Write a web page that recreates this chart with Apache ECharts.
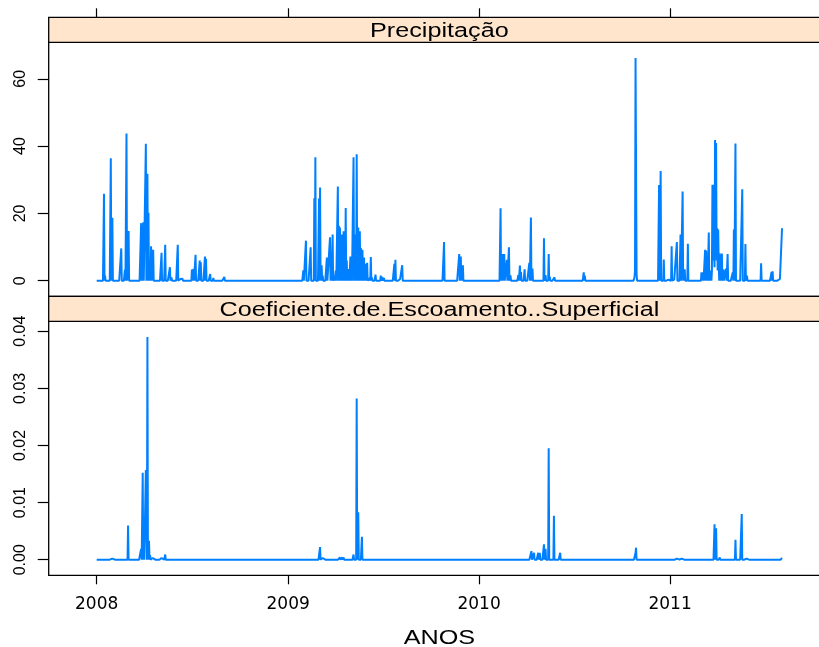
<!DOCTYPE html>
<html>
<head>
<meta charset="utf-8">
<title>Precipitação e Coeficiente de Escoamento Superficial</title>
<script src="https://cdn.jsdelivr.net/npm/echarts@6/dist/echarts.min.js"></script>
<style>
  html, body { margin: 0; padding: 0; background: #ffffff; }
  #chart { width: 819px; height: 647px; }
</style>
</head>
<body>
<div id="chart"></div>
<script>
// Daily record starting 2008-01-01 (day 0). Days not listed recorded 0.
const lastDay = 1310;

// Precipitação (mm): rainy days and amounts
const precipDays = [
  14, 16, 27, 30, 47, 54, 57, 61, 85, 87, 89, 94, 97, 99, 102, 104, 108, 124, 131, 140, 143, 155, 160, 164,
  182, 185, 189, 197, 199, 207, 209, 217, 223, 229, 244,
  395, 400, 404, 409, 412, 416, 418, 420, 425, 427, 430, 432, 440, 443, 446, 448, 451, 454, 457, 461,
  463, 465, 467, 469, 472, 474, 476, 478, 480, 482, 485, 487, 489, 491, 493, 495, 497, 499, 500, 502,
  503, 505, 508, 511, 514, 517, 522, 524, 526, 533, 543, 546, 549, 553, 569, 571, 580, 584, 664, 686,
  693, 696, 700, 703,
  772, 776, 779, 784, 788, 791, 795, 806, 809, 811, 815, 818, 822, 827, 830, 833, 855, 858, 864, 866,
  875, 877, 895, 922, 931, 933, 1028, 1029, 1030, 1031, 1032, 1072, 1075, 1078, 1084, 1093,
  1099, 1104, 1109, 1113, 1116, 1120, 1124, 1130, 1156, 1159, 1163, 1165, 1167, 1170, 1172, 1174, 1176, 1177, 1178, 1179,
  1180, 1181, 1182, 1183, 1184, 1185, 1186, 1187, 1188, 1189, 1191, 1193, 1195, 1198, 1201, 1203, 1206, 1209, 1216, 1218,
  1221, 1225, 1234, 1240, 1243, 1249, 1254, 1270, 1290, 1292, 1303, 1306, 1310
];
const precipMm = [
  25.8, 1.5, 36.4, 18.7, 9.6, 3.3, 43.7, 14.8, 17.1, 5.2, 17.4, 40.7, 31.8, 20.2, 4.5, 10.2, 9.2, 8.3, 10.7, 4.0, 1.0, 10.7, 0.5, 0.6,
  3.3, 3.5, 7.7, 6.0, 5.5, 7.2, 6.5, 2.0, 0.8, 0.5, 1.1,
  3.1, 11.9, 0.5, 9.9, 0.5, 24.5, 36.7, 0.3, 24.4, 27.7, 4.6, 1.5, 6.9, 0.5, 12.9, 2.0, 13.7, 1.5, 3.0, 28.0,
  16.3, 15.8, 2.8, 13.7, 14.7, 14.7, 21.6, 6.0, 3.0, 3.5, 7.2, 6.0, 0.5, 36.7, 4.0, 13.7, 37.6, 5.0, 15.8, 4.0,
  14.7, 9.7, 9.2, 6.9, 5.0, 5.3, 0.8, 7.0, 1.0, 1.8, 1.5, 1.1, 0.8, 0.5, 5.0, 6.2, 0.5, 4.6, 11.5, 0.3,
  7.9, 7.2, 4.6, 0.3,
  21.5, 7.9, 7.9, 6.2, 9.9, 1.6, 0.3, 1.7, 4.5, 2.6, 0.3, 3.4, 0.5, 5.3, 18.8, 3.6, 12.6, 1.7, 7.9, 1.2,
  1.0, 0.5, 0.4, 0.4, 2.5, 1.5, 1.0, 3.0, 66.2, 66.2, 2.0, 0.5, 28.4, 32.6, 6.3, 0.3,
  10.2, 0.3, 11.5, 0.3, 13.7, 26.5, 3.4, 11.0, 2.5, 2.5, 9.2, 9.0, 4.0, 14.3, 3.0, 1.5, 3.0, 28.5, 6.0, 28.5,
  10.0, 4.0, 41.8, 12.0, 40.9, 6.0, 15.6, 3.0, 15.2, 5.0, 8.1, 2.0, 8.1, 3.4, 0.5, 3.6, 7.9, 0.5, 2.5, 15.2,
  40.8, 0.3, 27.2, 10.9, 1.5, 0.5, 0.3, 5.2, 2.6, 2.8, 0.5, 0.5, 15.6
];

// Coeficiente de escoamento superficial: days with runoff
const coefDays = [
  14, 27, 30, 60, 85, 88, 90, 94, 95, 97, 100, 102, 105, 107, 124, 131, 139,
  417, 427, 432, 465, 469, 472, 484, 491, 497, 500, 507, 513, 526, 543, 664,
  831, 836, 844, 847, 855, 858, 864, 874, 886, 1029, 1030, 1031, 1074,
  1109, 1118, 1130, 1181, 1183, 1184, 1191, 1221, 1233, 1242, 1292, 1310
];
const coefValues = [
  0.0002, 0.0002, 0.0002, 0.0060, 0.0019, 0.0152, 0.0019, 0.0157, 0.0157, 0.0390, 0.0033, 0.0008, 0.0003, 0.0003, 0.0003, 0.0009, 0.0002,
  0.0002, 0.0022, 0.0003, 0.0004, 0.0004, 0.0004, 0.0002, 0.0009, 0.0282, 0.0083, 0.0040, 0.0002, 0.0002, 0.0003, 0.0002,
  0.0015, 0.0012, 0.0012, 0.0012, 0.0027, 0.0019, 0.0195, 0.0077, 0.0012, 0.0003, 0.0012, 0.0021, 0.0002,
  0.0002, 0.0002, 0.0002, 0.0062, 0.0050, 0.0055, 0.0004, 0.0035, 0.0080, 0.0002, 0.0002, 0.0003
];

// Axis tick values
const yearTicks = [2008, 2009, 2010, 2011];
const precipTicks = [0, 20, 40, 60];
const coefTicks = [0, 0.01, 0.02, 0.03, 0.04];

// x is measured in days since 2008-01-01
const DAY_MS = 86400000;
const START = Date.UTC(2008, 0, 1);
const yearDays = yearTicks.map(y => Math.round((Date.UTC(y, 0, 1) - START) / DAY_MS));
const yearAtDay = new Map(yearDays.map((d, i) => [d, yearTicks[i]]));

function dailySeries(days, values) {
  const byDay = new Map(days.map((d, i) => [d, values[i]]));
  const out = [];
  for (let d = 0; d <= lastDay; d++) out.push([d, byDay.has(d) ? byDay.get(d) : 0]);
  return out;
}
// lattice-style axis limits: data range extended by 7% on each side
function padded(lo, hi) { const e = 0.07 * (hi - lo); return [lo - e, hi + e]; }

const xRange = padded(0, lastDay);
const yPrecip = padded(0, Math.max(...precipMm));
const yCoef = padded(0, Math.max(...coefValues));

// Panel geometry (the right edge of the panels runs past the page)
const LEFT = 48.7, WIDTH = 781.3, STRIP_H = 25, PANEL_H = 254;
const STRIP1_TOP = 17.3;
const PANEL1_TOP = STRIP1_TOP + STRIP_H;
const STRIP2_TOP = PANEL1_TOP + PANEL_H;
const PANEL2_TOP = STRIP2_TOP + STRIP_H;
const CENTER_X = LEFT + WIDTH / 2;

const LINE_COLOR = '#0080ff';
const STRIP_FILL = '#ffe5cc';
const tickStyle = { color: '#000', width: 1.2 };
const hiddenLine = { show: false, onZero: false };
const yLabelStyle = { rotate: 90, margin: 20, fontFamily: 'Liberation Sans', fontSize: 16, color: '#000' };

function stripGraphics(top, title) {
  return [
    { type: 'rect', shape: { x: LEFT, y: top, width: WIDTH, height: STRIP_H },
      style: { fill: STRIP_FILL, stroke: '#000', lineWidth: 1.3 } },
    { type: 'text', x: CENTER_X, y: top + 13.7, scaleX: 1.26,
      style: { text: title, fontFamily: 'Liberation Sans', fontSize: 20, fill: '#000',
               align: 'center', verticalAlign: 'middle' } }
  ];
}

const gridBase = { left: LEFT, width: WIDTH, height: PANEL_H, show: true, outerBoundsMode: 'none',
                   containLabel: false, borderColor: '#000', borderWidth: 1.3, backgroundColor: 'transparent' };

const chart = echarts.init(document.getElementById('chart'), null, { renderer: 'canvas' });
chart.setOption({
  animation: false,
  backgroundColor: '#ffffff',
  grid: [
    Object.assign({ top: PANEL1_TOP }, gridBase),
    Object.assign({ top: PANEL2_TOP }, gridBase)
  ],
  xAxis: [
    { gridIndex: 0, type: 'value', position: 'top', offset: STRIP_H,
      min: xRange[0], max: xRange[1],
      axisLine: hiddenLine,
      axisTick: { show: true, inside: false, length: 9, lineStyle: tickStyle, customValues: yearDays },
      axisLabel: { show: false },
      splitLine: { show: false } },
    { gridIndex: 1, type: 'value', position: 'bottom',
      min: xRange[0], max: xRange[1],
      axisLine: hiddenLine,
      axisTick: { show: true, inside: false, length: 9, lineStyle: tickStyle, customValues: yearDays },
      axisLabel: { customValues: yearDays, margin: 21, fontFamily: 'DejaVu Sans', fontSize: 17, color: '#000',
                   formatter: v => String(yearAtDay.get(Math.round(v))) },
      splitLine: { show: false } }
  ],
  yAxis: [
    { gridIndex: 0, type: 'value', position: 'left', min: yPrecip[0], max: yPrecip[1],
      axisLine: hiddenLine,
      axisTick: { show: true, inside: false, length: 11, lineStyle: tickStyle, customValues: precipTicks },
      axisLabel: Object.assign({ customValues: precipTicks, formatter: v => String(v) }, yLabelStyle),
      splitLine: { show: false } },
    { gridIndex: 1, type: 'value', position: 'left', min: yCoef[0], max: yCoef[1],
      axisLine: hiddenLine,
      axisTick: { show: true, inside: false, length: 11, lineStyle: tickStyle, customValues: coefTicks },
      axisLabel: Object.assign({ customValues: coefTicks, formatter: v => v.toFixed(2) }, yLabelStyle),
      splitLine: { show: false } }
  ],
  series: [
    { name: 'Precipitação', type: 'line', xAxisIndex: 0, yAxisIndex: 0,
      data: dailySeries(precipDays, precipMm),
      showSymbol: false, symbol: 'none', silent: true,
      lineStyle: { color: LINE_COLOR, width: 2 } },
    { name: 'Coeficiente.de.Escoamento..Superficial', type: 'line', xAxisIndex: 1, yAxisIndex: 1,
      data: dailySeries(coefDays, coefValues),
      showSymbol: false, symbol: 'none', silent: true,
      lineStyle: { color: LINE_COLOR, width: 2 } }
  ],
  graphic: [
    ...stripGraphics(STRIP1_TOP, 'Precipitação'),
    ...stripGraphics(STRIP2_TOP, 'Coeficiente.de.Escoamento..Superficial'),
    { type: 'text', x: CENTER_X, y: 638.7, scaleX: 1.26,
      style: { text: 'ANOS', fontFamily: 'Liberation Sans', fontSize: 20, fill: '#000',
               align: 'center', verticalAlign: 'middle' } }
  ]
});
</script>
</body>
</html>
